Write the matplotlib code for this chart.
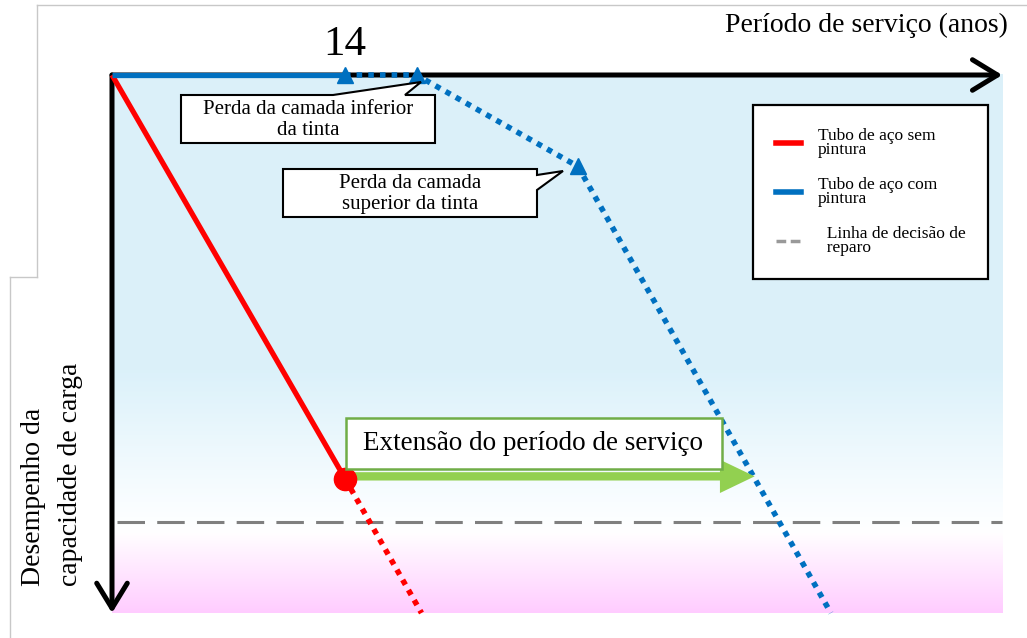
import numpy as np
import matplotlib.pyplot as plt
import matplotlib.transforms as mtransforms
from matplotlib.lines import Line2D
from matplotlib.patches import Polygon, Rectangle

plt.rcParams['font.family'] = ['Liberation Serif', 'DejaVu Serif']

# valores (anos x desempenho relativo, 100 = novo)
anos_sem_pintura = [0, 14, 18.6]
desemp_sem_pintura = [100, 25, 0]
anos_com_pintura = [0, 14, 18.3, 28, 43.2]
desemp_com_pintura = [100, 100, 100, 83, 0]
marcos_com_pintura = [14, 18.3, 28]   # perda das camadas de tinta
limite_reparo = 17
ano_marco = 14
ano_max = 53.5

rotulos_legenda = ['Tubo de aço sem\npintura', 'Tubo de aço com\npintura',
                   '  Linha de decisão de\n  reparo']

AZUL = '#0070c0'
VERDE = '#92d050'
CINZA = '#7f7f7f'

W, H = 1027, 638
X0, PX_ANO = 112, 16.64      # pixel do ano 0 e pixels por ano
Y100, PX_UN = 75, 5.38       # pixel do desempenho 100 e pixels por unidade

fig = plt.figure(figsize=(W / 100, H / 100), dpi=100)
ax = fig.add_axes([0, 0, 1, 1])
ax.axis('off')
# transform em pixels com origem no canto superior esquerdo
pix = mtransforms.Affine2D().scale(1 / W, -1 / H).translate(0, 1) + fig.transFigure

# fundo em degradê (azul claro -> branco -> rosa)
p = np.linspace(0, 100, 400)
stops = [0, 15, 22, 45, 100]
cols = np.array([[1.0, 0.80, 1.0], [1, 1, 1], [0.97, 0.99, 1.0],
                 [0.86, 0.945, 0.98], [0.86, 0.945, 0.98]])
grad = np.stack([np.interp(p, stops, cols[:, i]) for i in range(3)], axis=-1)[:, None, :]
ax.imshow(grad, extent=[0, ano_max, 0, 100], origin='lower', aspect='auto', zorder=0)

ax.set_xlim(-X0 / PX_ANO, (W - X0) / PX_ANO)
ax.set_ylim(100 - (H - Y100) / PX_UN, 100 + Y100 / PX_UN)

# linha de decisão de reparo
ax.plot([0.3, ano_max], [limite_reparo, limite_reparo], color=CINZA, lw=2.2,
        ls=(0, (9, 4)), zorder=2)

# eixos com setas
seta = dict(arrowstyle='->,head_length=0.9,head_width=0.55', lw=3.6, color='black',
            shrinkA=0, shrinkB=0, mutation_scale=20)
ax.annotate('', xy=(ano_max, 100), xytext=(0, 100), arrowprops=seta, zorder=3)
ax.annotate('', xy=(0, 0), xytext=(0, 100), arrowprops=seta, zorder=3)

pontilhado = (0, (1, 1.1))

# tubo sem pintura
ax.plot(anos_sem_pintura[:2], desemp_sem_pintura[:2], color='red', lw=3.8,
        solid_capstyle='butt', zorder=4)
ax.plot(anos_sem_pintura[1:], desemp_sem_pintura[1:], color='red', lw=4,
        ls=pontilhado, zorder=4)

# tubo com pintura
ax.plot(anos_com_pintura[:2], desemp_com_pintura[:2], color=AZUL, lw=3.8,
        solid_capstyle='butt', zorder=4)
ax.plot(anos_com_pintura[1:], desemp_com_pintura[1:], color=AZUL, lw=4,
        ls=pontilhado, zorder=4)
ax.plot(marcos_com_pintura, np.interp(marcos_com_pintura, anos_com_pintura, desemp_com_pintura),
        '^', ms=12, color=AZUL, zorder=5)

ax.annotate('14', xy=(ano_marco, 100), xytext=(0, 22), textcoords='offset points',
            ha='center', va='center', fontsize=31)

# extensão do período de serviço
desemp_ext = desemp_sem_pintura[1]
ano_fim = np.interp(desemp_ext, desemp_com_pintura[::-1], anos_com_pintura[::-1])
ax.annotate('', xy=(ano_fim, desemp_ext + 0.4), xytext=(ano_marco, desemp_ext + 0.4),
            arrowprops=dict(arrowstyle='simple,head_length=2.5,head_width=2.4,tail_width=0.6',
                            mutation_scale=10, fc=VERDE, ec='none', shrinkA=0, shrinkB=0),
            zorder=5)
ax.plot(ano_marco, desemp_ext, 'o', ms=16, color='red', zorder=6)

fig.add_artist(Rectangle((346, 418), 376, 51, transform=pix, fc='white', ec='#70ad47', lw=1.8))
fig.text(533, 444, 'Extensão do período de serviço', transform=pix, ha='center', va='center',
         fontsize=19.5)

# balões de texto
baloes = [
    ([(181, 95), (333, 95), (421, 82), (405, 95), (435, 95), (435, 143), (181, 143)],
     (308, 120), 'Perda da camada inferior\nda tinta'),
    ([(283, 169), (537, 169), (537, 175), (563, 171), (537, 190), (537, 217), (283, 217)],
     (410, 194), 'Perda da camada\nsuperior da tinta'),
]
for verts, (cx, cy), txt in baloes:
    fig.add_artist(Polygon(verts, closed=True, transform=pix, fc='white', ec='black', lw=1.5))
    fig.text(cx, cy, txt, transform=pix, ha='center', va='center', fontsize=15, linespacing=1.2)

# títulos dos eixos
fig.text(1008, 25, 'Período de serviço (anos)', transform=pix, ha='right', va='center',
         fontsize=20)
fig.text(52, 586, 'Desempenho da\ncapacidade de carga', transform=pix, rotation=90,
         ha='center', va='bottom', multialignment='left', fontsize=20, linespacing=1.6)

# legenda
handles = [Line2D([], [], color='red', lw=4),
           Line2D([], [], color=AZUL, lw=4),
           Line2D([], [], color='#999999', lw=2.5, ls=(0, (2.8, 1.3)))]
leg = ax.legend(handles, rotulos_legenda, loc='upper left', bbox_to_anchor=(753, 105),
                bbox_transform=pix, borderaxespad=0, fontsize=12.5, frameon=True,
                fancybox=False, framealpha=1, edgecolor='black', borderpad=1.3,
                labelspacing=1.1, handlelength=1.45, handletextpad=1.0)
leg.get_frame().set_linewidth(1.6)
for t in leg.get_texts():
    t.set_linespacing(0.85)

# bordas cinza da captura de tela
for xs, ys in [([37, W], [5, 5]), ([37, 37], [5, 277]), ([10, 37], [277, 277]), ([10, 10], [277, H])]:
    fig.add_artist(Line2D(xs, ys, transform=pix, color='#c8c8c8', lw=1))

fig.savefig('out.png', dpi=100, facecolor='white')
